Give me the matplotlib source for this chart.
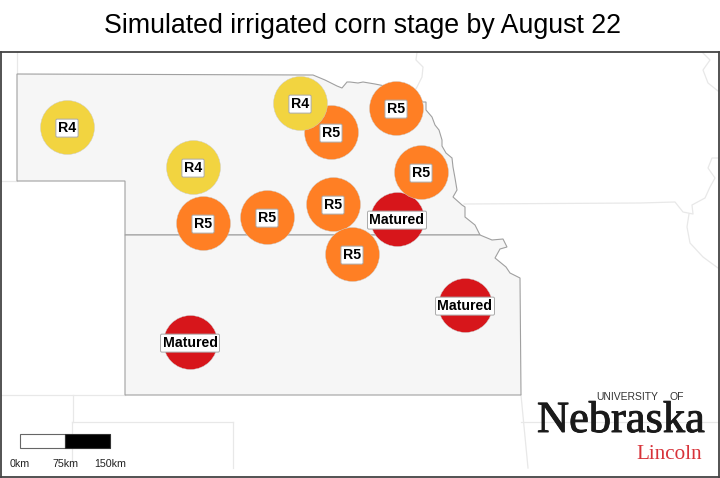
import matplotlib
matplotlib.use('Agg')
import matplotlib.pyplot as plt
import matplotlib.patheffects as pe
from matplotlib.patches import Polygon, Rectangle

# map outlines, in image pixels
ne_x = [17, 313, 325, 337, 342, 347, 350, 358, 363, 375, 395, 410, 423, 426, 426, 432, 435, 439, 442, 442, 446,
        452, 453, 455, 457, 453, 462, 465, 465, 475, 480, 125, 125, 17]
ne_y = [74, 75, 80, 86, 88, 82, 82, 83, 82, 84, 88, 95, 102, 102, 110, 117, 125, 130, 140, 146, 153,
        158, 167, 178, 190, 197, 205, 207, 217, 225, 235, 235, 181, 181]
ks_x = [125, 480, 492, 503, 507, 500, 495, 506, 510, 520, 521, 125]
ks_y = [235, 235, 240, 239, 247, 249, 258, 267, 273, 278, 395, 395]

# neighbouring state lines
other_lines = [
    ([17, 17], [52, 74]),
    ([1, 17], [181, 181]),
    ([1, 125], [395, 395]),
    ([73, 73], [395, 422]),
    ([72, 233], [422, 422]),
    ([72, 72], [422, 468]),
    ([233, 233], [422, 468]),
    ([521, 528], [395, 468]),
    ([521, 719], [422, 422]),
    ([417, 416, 423, 422, 417, 412], [52, 60, 67, 77, 87, 95]),
    ([464, 640, 675, 683, 693, 692, 705, 710, 715, 708, 712, 718],
     [204, 203, 202, 212, 214, 205, 198, 187, 178, 168, 158, 158]),
    ([689, 687, 690, 703, 718], [214, 227, 243, 257, 268]),
    ([702, 710, 703, 708, 718], [52, 60, 70, 83, 91]),
]

# sites
stages = ['Matured', 'Matured', 'Matured', 'R5', 'R5', 'R5', 'R5', 'R5', 'R5', 'R5', 'R4', 'R4', 'R4']
site_x = [397, 465, 190, 203, 267, 333, 331, 396, 421, 352, 67, 193, 300]
site_y = [219, 305, 342, 223, 217, 204, 132, 108, 172, 254, 127, 167, 103]
stage_colors = {'R4': '#F2D440', 'R5': '#FF7F24', 'Matured': '#D7161B'}

scale_labels = ['0km', '75km', '150km']
scale_x = [20, 65, 110]

fig = plt.figure(figsize=(7.2, 4.78), dpi=100)
ax = fig.add_axes([1 / 720, 1 / 478, 718 / 720, 425 / 478])
ax.set_xlim(1, 719)
ax.set_ylim(477, 52)
ax.set_xticks([])
ax.set_yticks([])
for s in ax.spines.values():
    s.set_color('#444444')
    s.set_linewidth(1.3)

for x, y in other_lines:
    ax.plot(x, y, color='#E8E8E8', lw=0.9, zorder=1)

for x, y in [(ne_x, ne_y), (ks_x, ks_y)]:
    ax.add_patch(Polygon(list(zip(x, y)), closed=True, fc='#F6F6F6', ec='#A0A0A0', lw=0.8, zorder=2))

# circles
for x, y, st in zip(site_x, site_y, stages):
    ax.scatter([x], [y], s=1512, color=stage_colors[st], edgecolor='#CCCCCC', linewidth=0.3, zorder=3)

for x, y, st in zip(site_x, site_y, stages):
    ax.annotate(st, (x, y), xytext=(0, -0.8), textcoords='offset points', ha='center', va='center',
                family='Liberation Sans', weight='bold', fontsize=10.2, color='black', zorder=4,
                bbox=dict(boxstyle='round,pad=0.14,rounding_size=0.1', fc='white', ec='#AAAAAA', lw=0.7))

# scale bar
ax.add_patch(Rectangle((scale_x[0], 434), scale_x[1] - scale_x[0], 14, fc='white', ec='#666666', lw=0.8, zorder=3))
ax.add_patch(Rectangle((scale_x[1], 434), scale_x[2] - scale_x[1], 14, fc='black', ec='#333333', lw=0.8, zorder=3))
for x, lab in zip(scale_x, scale_labels):
    ax.text(x, 464, lab, ha='center', va='center', family='Liberation Sans', fontsize=7.7, color='#222222')

# logo
ax.text(537, 432, 'Nebraska', ha='left', va='baseline', family='Liberation Serif', fontsize=32, color='#1A1A1A',
        zorder=5, path_effects=[pe.withStroke(linewidth=0.7, foreground='#1A1A1A')])
ax.text(596, 400, 'UNIVERSITY', ha='left', va='baseline', family='Liberation Sans', fontsize=7.5, color='#333333', zorder=5)
ax.text(670, 400, 'OF', ha='left', va='baseline', family='Liberation Sans', fontsize=7.5, color='#333333', zorder=5)
ax.text(636, 459, 'Lincoln', ha='left', va='baseline', family='Liberation Serif', fontsize=15.2, color='#D8333A', zorder=5)

fig.text(363 / 720, 1 - 26 / 478, 'Simulated irrigated corn stage by August 22', ha='center', va='center',
         family='Liberation Sans', fontsize=19.3, color='black')

fig.savefig('out.png', dpi=100)
